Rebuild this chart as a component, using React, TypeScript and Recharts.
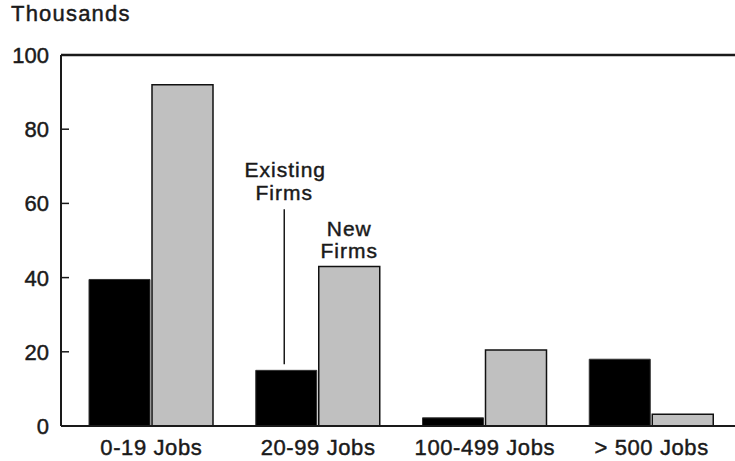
import { BarChart, Bar, XAxis, YAxis, ReferenceLine, LabelList } from 'recharts';

const categories = ['0-19 Jobs', '20-99 Jobs', '100-499 Jobs', '> 500 Jobs'];
const existingFirms = [39.5, 15, 2.2, 18];
const newFirms = [92, 43, 20.5, 3.2];
const yTicks = [0, 20, 40, 60, 80, 100];

const rows = categories.map((category, i) => ({
  category,
  existing: existingFirms[i],
  fresh: newFirms[i],
}));

const FONT = '"Liberation Sans", Arial, Helvetica, sans-serif';
const INK = '#1a1a1a';
// a thin stroke makes the text look like the heavier Helvetica of the original
const heavy = { stroke: INK, strokeWidth: 0.45 };

function YTick({ x, y, payload }: any) {
  return (
    <g>
      {/* ticks point inward from the axis */}
      <line x1={x + 13} x2={x + 20} y1={y} y2={y} stroke={INK} strokeWidth={1.5} />
      <text x={x} y={y} dy="0.36em" textAnchor="end" fontFamily={FONT} fontSize={22} fill={INK} {...heavy}>
        {payload.value}
      </text>
    </g>
  );
}

function XTick({ x, y, payload }: any) {
  return (
    <text x={x} y={y} dy="0.71em" textAnchor="middle" fontFamily={FONT} fontSize={22} letterSpacing={0.6} fill={INK} {...heavy}>
      {payload.value}
    </text>
  );
}

// callout for the black bar of the second group
function ExistingLabel({ x, y, width, index }: any) {
  if (index !== 1) return null;
  const cx = Number(x) + Number(width) / 2;
  const top = Number(y);
  return (
    <g>
      <line x1={cx - 2} x2={cx - 2} y1={top - 6} y2={top - 161} stroke={INK} strokeWidth={1.5} />
      <g fontFamily={FONT} fontSize={21} fill={INK} letterSpacing={1} {...heavy}>
        <text x={cx - 1} y={top - 193} textAnchor="middle">Existing</text>
        <text x={cx - 2} y={top - 170} textAnchor="middle">Firms</text>
      </g>
    </g>
  );
}

function NewLabel({ x, y, width, index }: any) {
  if (index !== 1) return null;
  const cx = Number(x) + Number(width) / 2;
  const top = Number(y);
  return (
    <g fontFamily={FONT} fontSize={21} fill={INK} letterSpacing={1} {...heavy}>
      <text x={cx} y={top - 30} textAnchor="middle">New</text>
      <text x={cx} y={top - 8} textAnchor="middle">Firms</text>
    </g>
  );
}

export default function App() {
  return (
    <div style={{ position: 'absolute', left: 0, top: 0, width: 735, height: 461, background: '#fff' }}>
      <div
        style={{
          position: 'absolute', left: 11, top: 3, fontFamily: FONT, fontSize: 22,
          lineHeight: 1, color: INK, letterSpacing: 1.2, WebkitTextStroke: '0.45px ' + INK,
        }}
      >
        Thousands
      </div>
      <BarChart
        width={735}
        height={461}
        data={rows}
        margin={{ top: 55, right: 0, bottom: 0, left: 0 }}
        barGap={2}
        barSize={61}
      >
        <XAxis
          dataKey="category"
          height={35}
          tickLine={false}
          tickSize={0}
          tickMargin={13}
          axisLine={{ stroke: INK, strokeWidth: 2 }}
          padding={{ left: 7, right: 0 }}
          tick={<XTick />}
        />
        <YAxis
          width={61}
          domain={[0, 100]}
          ticks={yTicks}
          tickLine={false}
          tickSize={0}
          tickMargin={12}
          axisLine={{ stroke: INK, strokeWidth: 2 }}
          tick={<YTick />}
        />
        <ReferenceLine y={100} stroke={INK} strokeWidth={2.5} />
        <Bar dataKey="existing" fill="#000" stroke="#333" strokeWidth={1} isAnimationActive={false}>
          <LabelList dataKey="existing" content={<ExistingLabel />} />
        </Bar>
        <Bar dataKey="fresh" fill="#c0c0c0" stroke="#111" strokeWidth={1.5} isAnimationActive={false}>
          <LabelList dataKey="fresh" content={<NewLabel />} />
        </Bar>
      </BarChart>
    </div>
  );
}
